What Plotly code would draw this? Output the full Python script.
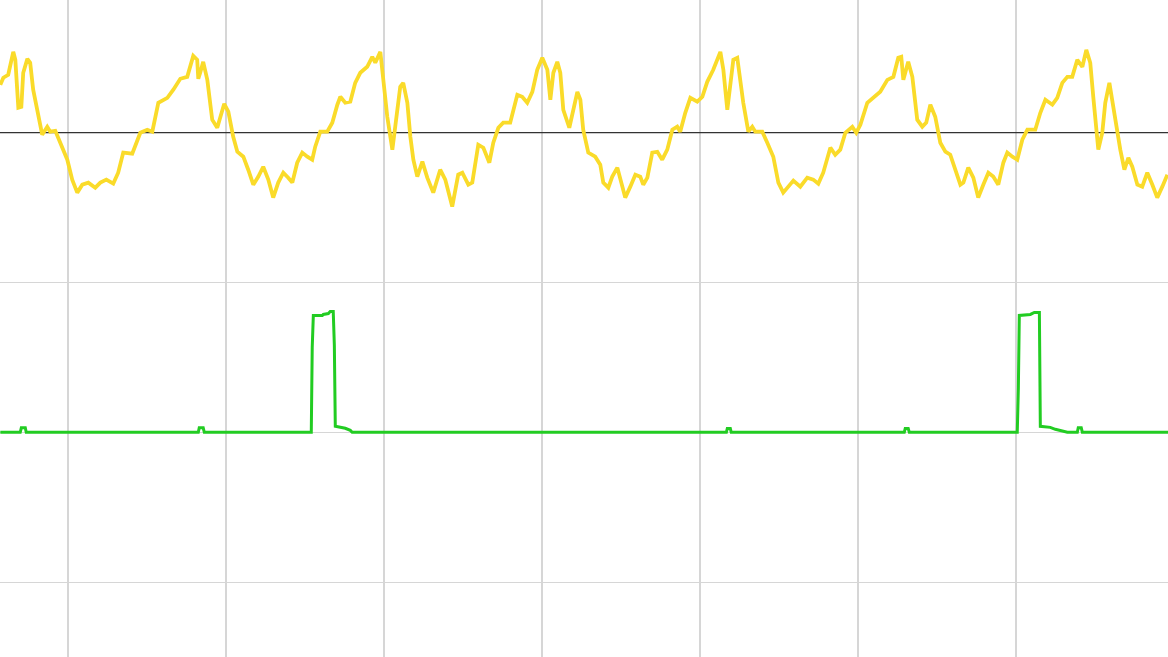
import plotly.graph_objects as go

# Channel 1 (yellow) : time in divisions, amplitude in divisions (relative to its own zero)
ch1_t = [-0.430, -0.411, -0.380, -0.354, -0.348, -0.335, -0.316, -0.297, -0.285, -0.259,
         -0.241, -0.222, -0.196, -0.165, -0.133, -0.114, -0.082, -0.051, -0.006, 0.025,
         0.057, 0.089, 0.127, 0.171, 0.203, 0.241, 0.285, 0.316, 0.348, 0.405,
         0.456, 0.500, 0.532, 0.570, 0.627, 0.665, 0.709, 0.753, 0.791, 0.816,
         0.823, 0.835, 0.854, 0.880, 0.911, 0.943, 0.962, 0.987, 1.013, 1.044,
         1.070, 1.108, 1.139, 1.171, 1.203, 1.234, 1.266, 1.297, 1.329, 1.361,
         1.392, 1.418, 1.449, 1.481, 1.513, 1.544, 1.563, 1.595, 1.639, 1.671,
         1.703, 1.722, 1.753, 1.785, 1.816, 1.848, 1.892, 1.924, 1.943, 1.975,
         1.994, 2.019, 2.051, 2.070, 2.101, 2.120, 2.146, 2.165, 2.184, 2.209,
         2.241, 2.272, 2.310, 2.354, 2.386, 2.430, 2.468, 2.494, 2.532, 2.557,
         2.595, 2.627, 2.665, 2.690, 2.722, 2.753, 2.797, 2.842, 2.873, 2.905,
         2.937, 2.968, 3.000, 3.032, 3.051, 3.070, 3.095, 3.114, 3.133, 3.171,
         3.196, 3.222, 3.241, 3.259, 3.291, 3.335, 3.367, 3.386, 3.418, 3.443,
         3.475, 3.494, 3.525, 3.557, 3.589, 3.620, 3.639, 3.665, 3.696, 3.728,
         3.759, 3.791, 3.823, 3.854, 3.873, 3.905, 3.937, 3.981, 4.013, 4.044,
         4.082, 4.127, 4.146, 4.171, 4.190, 4.209, 4.234, 4.253, 4.272, 4.304,
         4.329, 4.348, 4.392, 4.424, 4.462, 4.494, 4.525, 4.557, 4.589, 4.633,
         4.677, 4.715, 4.747, 4.778, 4.823, 4.854, 4.886, 4.918, 4.962, 4.987,
         5.013, 5.057, 5.095, 5.139, 5.184, 5.222, 5.253, 5.272, 5.285, 5.316,
         5.342, 5.373, 5.405, 5.430, 5.456, 5.487, 5.519, 5.551, 5.582, 5.614,
         5.646, 5.665, 5.696, 5.728, 5.759, 5.791, 5.823, 5.854, 5.886, 5.918,
         5.943, 5.975, 6.006, 6.038, 6.070, 6.120, 6.152, 6.184, 6.228, 6.259,
         6.291, 6.323, 6.354, 6.386, 6.418, 6.443, 6.468, 6.487, 6.519, 6.544,
         6.563, 6.589, 6.614, 6.639, 6.658, 6.684, 6.709, 6.734, 6.766, 6.797,
         6.829, 6.861, 6.892, 6.924, 6.956]
ch1_v = [0.320, 0.367, 0.387, 0.507, 0.540, 0.487, 0.167, 0.173, 0.400, 0.493,
         0.467, 0.287, 0.153, -0.013, 0.040, 0.007, 0.013, -0.067, -0.180, -0.313,
         -0.400, -0.347, -0.333, -0.367, -0.333, -0.313, -0.340, -0.267, -0.133, -0.140,
         0.000, 0.020, 0.007, 0.200, 0.233, 0.287, 0.360, 0.373, 0.513, 0.487,
         0.360, 0.400, 0.473, 0.353, 0.087, 0.033, 0.107, 0.193, 0.140, -0.027,
         -0.127, -0.160, -0.247, -0.347, -0.293, -0.227, -0.313, -0.433, -0.333, -0.267,
         -0.300, -0.333, -0.200, -0.133, -0.160, -0.180, -0.093, 0.007, 0.007, 0.067,
         0.187, 0.240, 0.200, 0.207, 0.333, 0.400, 0.440, 0.507, 0.467, 0.540,
         0.353, 0.107, -0.113, 0.040, 0.307, 0.333, 0.200, -0.027, -0.180, -0.293,
         -0.193, -0.300, -0.400, -0.247, -0.313, -0.493, -0.280, -0.267, -0.347, -0.333,
         -0.080, -0.100, -0.200, -0.067, 0.033, 0.067, 0.067, 0.253, 0.240, 0.200,
         0.273, 0.420, 0.500, 0.420, 0.220, 0.400, 0.473, 0.400, 0.153, 0.033,
         0.140, 0.273, 0.220, 0.020, -0.133, -0.160, -0.213, -0.333, -0.367, -0.293,
         -0.233, -0.313, -0.433, -0.360, -0.280, -0.293, -0.347, -0.300, -0.133, -0.127,
         -0.180, -0.113, 0.020, 0.040, 0.007, 0.133, 0.233, 0.207, 0.240, 0.340,
         0.420, 0.540, 0.420, 0.153, 0.300, 0.487, 0.500, 0.353, 0.200, 0.007,
         0.040, 0.007, 0.007, -0.067, -0.160, -0.333, -0.400, -0.360, -0.320, -0.360,
         -0.300, -0.313, -0.340, -0.267, -0.100, -0.147, -0.113, 0.000, 0.040, 0.000,
         0.053, 0.200, 0.233, 0.273, 0.353, 0.373, 0.500, 0.507, 0.353, 0.473,
         0.373, 0.087, 0.040, 0.067, 0.187, 0.107, -0.067, -0.127, -0.147, -0.247,
         -0.347, -0.333, -0.233, -0.300, -0.433, -0.347, -0.267, -0.293, -0.347, -0.200,
         -0.133, -0.160, -0.180, -0.047, 0.020, 0.020, 0.133, 0.220, 0.187, 0.233,
         0.333, 0.373, 0.373, 0.487, 0.440, 0.553, 0.467, 0.240, -0.113, 0.000,
         0.200, 0.333, 0.173, 0.000, -0.113, -0.247, -0.167, -0.227, -0.347, -0.360,
         -0.267, -0.347, -0.433, -0.360, -0.280]
CH1_OFFSET = 2.0

# Channel 2 (green) : digital-like pulse channel
ch2_t = [-0.430, -0.304, -0.297, -0.272, -0.266, 0.823, 0.829, 0.854, 0.861,
         1.538, 1.544, 1.551, 1.608, 1.614, 1.646, 1.658, 1.677, 1.684, 1.690,
         1.722, 1.753, 1.785, 1.797, 4.165, 4.171, 4.190, 4.196, 5.291, 5.297,
         5.316, 5.323, 6.006, 6.013, 6.019, 6.089, 6.114, 6.146, 6.152, 6.215,
         6.247, 6.291, 6.323, 6.386, 6.392, 6.411, 6.418, 6.962]
ch2_v = [0.000, 0.000, 0.030, 0.030, 0.000, 0.000, 0.030, 0.030, 0.000,
         0.000, 0.567, 0.780, 0.780, 0.787, 0.793, 0.807, 0.807, 0.580, 0.040,
         0.033, 0.027, 0.013, 0.000, 0.000, 0.025, 0.025, 0.000, 0.000, 0.025,
         0.025, 0.000, 0.000, 0.300, 0.780, 0.787, 0.800, 0.800, 0.040, 0.033,
         0.020, 0.010, 0.000, 0.000, 0.030, 0.030, 0.000, 0.000]

X_RANGE = [-0.432, 6.960]
Y_RANGE = [-1.5, 2.886]

fig = go.Figure()
# channel-1 reference (zero) level marker
fig.add_trace(go.Scatter(
    x=X_RANGE, y=[CH1_OFFSET, CH1_OFFSET], mode="lines",
    line=dict(color="#333333", width=1.3),
    hoverinfo="skip", showlegend=False))
fig.add_trace(go.Scatter(
    x=ch2_t, y=ch2_v, mode="lines",
    line=dict(color="#22CC22", width=3, shape="linear"),
    hoverinfo="skip", showlegend=False))
fig.add_trace(go.Scatter(
    x=ch1_t, y=[v + CH1_OFFSET for v in ch1_v], mode="lines",
    line=dict(color="#FADB2A", width=3.8),
    hoverinfo="skip", showlegend=False))

fig.update_layout(
    width=1168, height=657,
    margin=dict(l=0, r=0, t=0, b=0),
    paper_bgcolor="white", plot_bgcolor="white",
    hovermode=False,
    xaxis=dict(range=X_RANGE, dtick=1, tick0=0, showgrid=True,
               gridcolor="#d6d6d6", gridwidth=2, zeroline=False,
               showticklabels=False, showline=False, ticks=""),
    yaxis=dict(range=Y_RANGE, dtick=1, tick0=0, showgrid=True,
               gridcolor="#d6d6d6", gridwidth=1, zeroline=False,
               showticklabels=False, showline=False, ticks=""),
)

fig.write_html("out.html",
               config={"displayModeBar": False, "staticPlot": True},
               post_script="document.body.style.margin='0';"
                           "document.body.style.overflow='hidden';")
